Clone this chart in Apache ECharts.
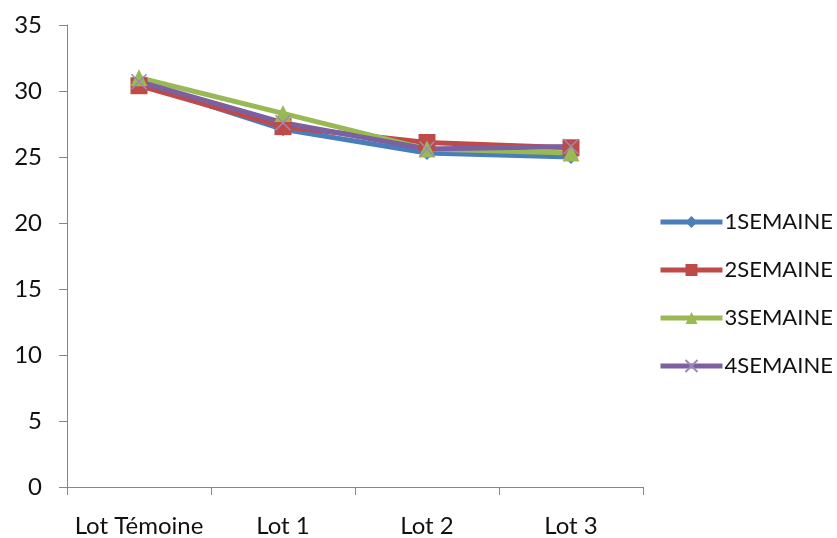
<!DOCTYPE html>
<html>
<head>
<meta charset="utf-8">
<script src="https://cdn.jsdelivr.net/npm/echarts@6/dist/echarts.min.js"></script>
<style>
  html, body { margin: 0; padding: 0; background: #fff; }
  #chart { width: 837px; height: 538px; }
</style>
</head>
<body>
<div id="chart"></div>
<script>
const categories = ['Lot Témoine', 'Lot 1', 'Lot 2', 'Lot 3'];
const semaine1 = [30.6, 27.1, 25.3, 25.0];
const semaine2 = [30.4, 27.3, 26.1, 25.7];
const semaine3 = [31.0, 28.3, 25.6, 25.3];
const semaine4 = [30.7, 27.6, 25.6, 25.8];
const seriesNames = ['1SEMAINE', '2SEMAINE', '3SEMAINE', '4SEMAINE'];
const yTicks = [0, 5, 10, 15, 20, 25, 30, 35];

const font = 'Lato, "Open Sans", sans-serif';
const axisGrey = '#868686';
const crossPath = 'path://M0,0L10,10M10,0L0,10';

function line(name, data, color, symbol, size) {
  const isCross = symbol === crossPath;
  return {
    name, type: 'line', data,
    symbol, symbolSize: size,
    lineStyle: { color, width: 5 },
    itemStyle: { color, borderColor: isCross ? '#9a8ab8' : color, borderWidth: isCross ? 1.5 : 0 },
    emphasis: { disabled: true },
    animation: false
  };
}

const chart = echarts.init(document.getElementById('chart'));
chart.setOption({
  backgroundColor: '#fff',
  animation: false,
  grid: { left: 67, right: 194, top: 25, bottom: 51 },
  legend: {
    orient: 'vertical',
    left: 653, top: 205,
    itemWidth: 62, itemHeight: 15, itemGap: 24,
    lineStyle: { width: 5 },
    textStyle: { fontFamily: font, fontSize: 22, lineHeight: 24, color: '#111', padding: [0, 0, 0, -3] },
    data: seriesNames
  },
  xAxis: {
    type: 'category', data: categories, boundaryGap: true,
    axisLine: { lineStyle: { color: axisGrey, width: 1 } },
    axisTick: { show: true, interval: 0, length: 8, alignWithLabel: false, lineStyle: { color: axisGrey } },
    axisLabel: { interval: 0, fontFamily: font, fontSize: 24, color: '#111', margin: 27 }
  },
  yAxis: {
    type: 'value', min: yTicks[0], max: yTicks[yTicks.length - 1], interval: 5,
    axisLine: { show: true, lineStyle: { color: axisGrey, width: 1 } },
    axisTick: { show: true, length: 8, lineStyle: { color: axisGrey } },
    splitLine: { show: false },
    axisLabel: { fontFamily: font, fontSize: 24, color: '#111', margin: 25 }
  },
  series: [
    line(seriesNames[0], semaine1, '#4A7EBB', 'diamond', 14),
    line(seriesNames[1], semaine2, '#BE4B48', 'rect', 17),
    line(seriesNames[2], semaine3, '#98B954', 'triangle', 17),
    line(seriesNames[3], semaine4, '#7D60A0', crossPath, 15)
  ]
});
</script>
</body>
</html>
